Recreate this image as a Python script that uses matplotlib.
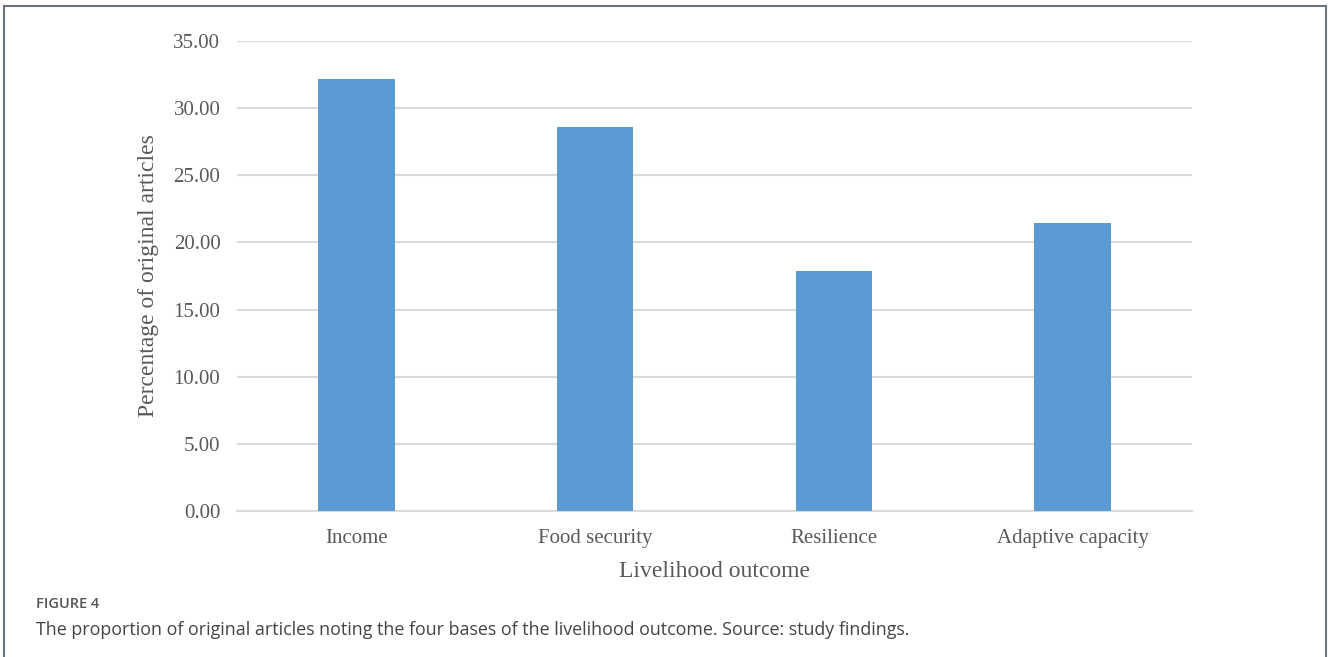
import matplotlib.pyplot as plt
from matplotlib.lines import Line2D

outcomes = ['Income', 'Food security', 'Resilience', 'Adaptive capacity']
percent = [32.14, 28.57, 17.86, 21.43]
yticks = [0, 5, 10, 15, 20, 25, 30, 35]

fig = plt.figure(figsize=(13.28, 6.57), dpi=100)
ax = fig.add_axes([0.1785, 0.2222, 0.7191, 0.7154])

ax.bar(range(len(outcomes)), percent, width=0.32, color='#5b9bd5', zorder=3)
ax.set_xlim(-0.5, len(outcomes) - 0.5)
ax.set_ylim(0, 35)
ax.set_yticks(yticks)
ax.set_yticklabels([f'{v:.2f}' for v in yticks])
ax.set_xticks(range(len(outcomes)))
ax.set_xticklabels(outcomes)

ax.grid(axis='y', color='#d9d9d9', linewidth=1.5, zorder=0)
for s in ['top', 'right', 'left']:
    ax.spines[s].set_visible(False)
ax.spines['bottom'].set_color('#d9d9d9')
ax.spines['bottom'].set_linewidth(1.5)
ax.tick_params(length=0, labelcolor='#595959', labelsize=15)
ax.tick_params(axis='y', pad=12)
ax.tick_params(axis='x', pad=13)
for lab in ax.get_xticklabels() + ax.get_yticklabels():
    lab.set_family('Liberation Serif')

ax.set_xlabel('Livelihood outcome', family='Liberation Serif', fontsize=17,
              color='#595959', labelpad=9)
ax.set_ylabel('Percentage of original articles', family='Liberation Serif',
              fontsize=17, color='#595959', labelpad=10)

# outer frame, open at the bottom
frame = '#6b7280'
fig.add_artist(Line2D([0.003, 0.003], [0, 0.991], color=frame, lw=1.5))
fig.add_artist(Line2D([0.003, 0.9985], [0.991, 0.991], color=frame, lw=1.5))
fig.add_artist(Line2D([0.9985, 0.9985], [0, 0.991], color=frame, lw=1.5))

fig.text(0.027, 0.081, 'FIGURE 4', family='Open Sans', fontsize=10.5,
         weight='semibold', color='#555555', va='center')
fig.text(0.027, 0.041, 'The proportion of original articles noting the four bases of '
         'the livelihood outcome. Source: study findings.',
         family='Open Sans', fontsize=12.9, color='#444444', va='center')

fig.savefig('out.png', dpi=100)
